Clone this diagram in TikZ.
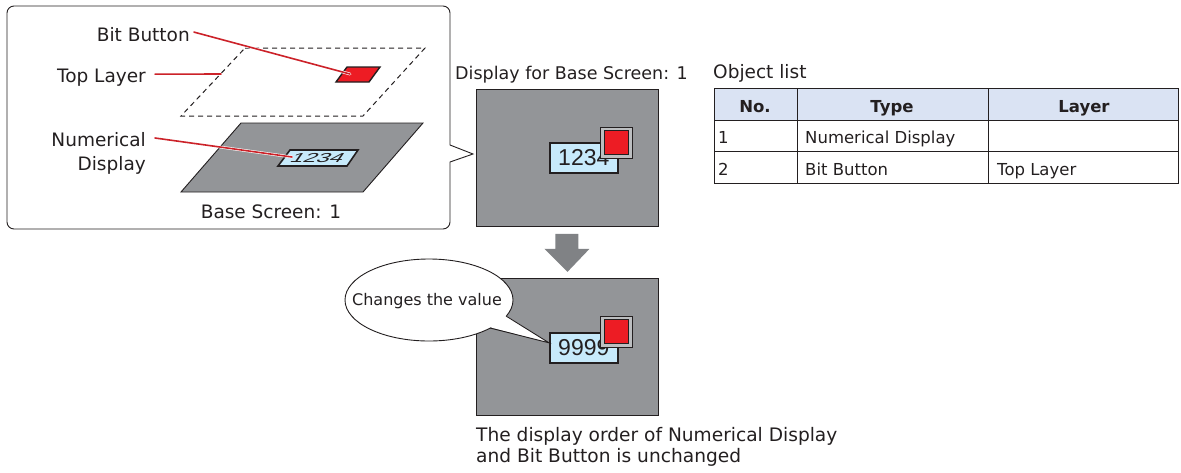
\documentclass[tikz,border=0pt]{standalone}
\usepackage{fontspec}
\setmainfont{DejaVu Sans}
\newfontfamily\digitfont{Liberation Sans}
\usetikzlibrary{shapes.geometric,positioning,calc}
\definecolor{inkgray}{HTML}{231F20}
\definecolor{scrgray}{HTML}{939598}
\definecolor{leadred}{HTML}{CC2229}
\definecolor{btnred}{HTML}{ED1C24}
\definecolor{btngray}{HTML}{BCBEC0}
\definecolor{numblue}{HTML}{C7EAFB}
\definecolor{hdrblue}{HTML}{DAE3F3}
\definecolor{arrowgray}{HTML}{808285}
\tikzset{
  lbl/.style={font=\fontsize{18.5}{24}\selectfont, text=inkgray, inner sep=0pt},
  tbl/.style={font=\fontsize{16.5}{20}\selectfont, text=inkgray, inner sep=0pt},
  leader/.style={draw=white, double=leadred, double distance=1.6pt, line width=0.6pt, line cap=round},
  screen/.style={fill=scrgray, draw=inkgray, line width=0.9pt, inner sep=0pt,
    minimum width=182pt, minimum height=137pt, anchor=north west},
  numbox/.style={fill=numblue, draw=inkgray, line width=1.6pt, inner sep=0pt,
    minimum width=68pt, minimum height=30pt, anchor=north west,
    font=\digitfont\fontsize{23}{23}\selectfont, text=inkgray},
  btnouter/.style={fill=btngray, draw=inkgray, line width=0.8pt, inner sep=0pt,
    minimum width=32pt, minimum height=31pt},
  btninner/.style={fill=btnred, draw=inkgray, line width=0.6pt, inner sep=0pt, minimum size=24pt},
  gridline/.style={draw=inkgray, line width=0.9pt},
}

\begin{document}
\begin{tikzpicture}[x=1pt,y=-1pt]
\useasboundingbox (0,0) rectangle (1181,472);

% callout with the two layers
\draw[inkgray, line width=0.9pt] (473,154) -- (450,145) [rounded corners=7pt] -- (450,6) -- (7,6)
  -- (7,229) -- (450,229) [sharp corners] -- (450,162) -- cycle;

\draw[inkgray, line width=1pt, dash pattern=on 5pt off 4pt]
  (245,48) -- (425,48) -- (363,116) -- (181,116) -- cycle;
\draw[inkgray, line width=0.9pt, fill=scrgray]
  (241,123) -- (423,123) -- (363,192) -- (181,192) -- cycle;
\draw[inkgray, line width=1.6pt, fill=numblue]
  (290,150) -- (358,150) -- (347,166) -- (278,166) -- cycle;
\node[font=\digitfont\fontsize{13}{13}\selectfont, text=inkgray, inner sep=0pt,
  transform shape, xslant=0.7, xscale=1.8] (numplane) at (318,158) {1234};
\draw[inkgray, line width=1.4pt, fill=btnred]
  (347,67) -- (380,67) -- (369,82) -- (336,82) -- cycle;

\coordinate (bbtip) at (350,74);
\coordinate (tltip) at (221,74);
\coordinate (ndtip) at (292,157);

\node[lbl, anchor=base east] (bitlbl) at (190,41) {Bit Button};
\node[lbl, anchor=base east] (toplbl) at (146,82) {Top Layer};
\node[lbl, anchor=east, align=right] (numlbl) at (146,153) {Numerical\\Display};
\node[lbl, anchor=base] (baselbl) at (271,218) {Base Screen: 1};

\draw[leader] ([xshift=4pt,yshift=2pt]bitlbl.east) -- (bbtip);
\draw[leader] ([xshift=9pt,yshift=3pt]toplbl.east) -- (tltip);
\draw[leader] ([xshift=9pt,yshift=15pt]numlbl.east) -- (ndtip);

% display before
\node[lbl, font=\fontsize{17.5}{20}\selectfont, anchor=base west] (scr1lbl) at (455,79) {Display for Base Screen: 1};
\node[screen] (scr1) at (476,89) {};
\node[numbox] (num1) at (549,142) {1234};
\node[btnouter] (btn1) at (616,142.5) {};
\node[btninner] (btn1r) at (btn1) {};

\fill[arrowgray] ($(scr1.south)+(-12,7)$) -- ++(23,0) -- ++(0,15) -- ++(11,0)
  -- ($(scr1.south)+(0,45)$) -- ++(-23,-23) -- ++(11,0) -- cycle;

% display after
\node[screen] (scr2) at (476,278) {};
\node[numbox] (num2) at (549,332) {9999};
\node[btnouter] (btn2) at (616,331.5) {};
\node[btninner] (btn2r) at (btn2) {};

\coordinate (bubble) at (429,300);
\draw[inkgray, line width=0.9pt, fill=white] (bubble) ellipse [x radius=84pt, y radius=41pt];
\coordinate (bubtip) at ([yshift=5pt]num2.west);
\fill[white] ($(bubble)+(76,15)$) -- (bubtip) -- ($(bubble)+(60,27)$) -- cycle;
\draw[inkgray, line width=0.9pt] ($(bubble)+(77,16)$) -- (bubtip) -- ($(bubble)+(61,28)$);
\node[font=\fontsize{16}{20}\selectfont, text=inkgray, inner sep=0pt] (bubtext) at (427,301) {Changes the value};

\node[lbl, font=\fontsize{18.6}{21}\selectfont, anchor=north west, align=left] (notelbl) at (476,427)
  {The display order of Numerical Display\\and Bit Button is unchanged};

% object list
\node[lbl, anchor=base west] (objlbl) at (713,78) {Object list};
\fill[hdrblue] (714,88) rectangle (1178,120);
\draw[gridline] (714,88) rectangle (1178,183);
\foreach \y in {120,151} \draw[gridline] (714,\y) -- (1178,\y);
\foreach \x in {797,988} \draw[gridline] (\x,88) -- (\x,183);
\node[tbl, font=\bfseries\fontsize{16.5}{20}\selectfont, anchor=base] (hno) at (755,112) {No.};
\node[tbl, font=\bfseries\fontsize{16.5}{20}\selectfont, anchor=base] (htype) at (892,112) {Type};
\node[tbl, font=\bfseries\fontsize{16.5}{20}\selectfont, anchor=base] (hlayer) at (1084,112) {Layer};
\foreach \y/\n/\t/\l in {143/1/Numerical Display/{}, 175/2/Bit Button/Top Layer} {
  \node[tbl, anchor=base west] (no\n) at (718,\y) {\n};
  \node[tbl, anchor=base west] (type\n) at (805,\y) {\t};
  \node[tbl, anchor=base west] (layer\n) at (997,\y) {\l};
}

\end{tikzpicture}
\end{document}
